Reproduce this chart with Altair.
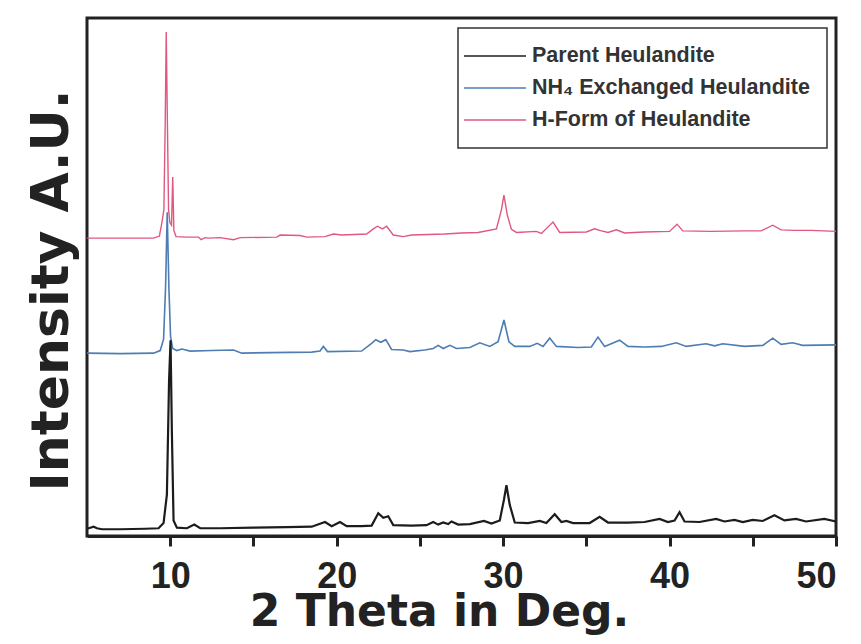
import altair as alt
import pandas as pd

series_names = ["Parent Heulandite", "NH\u2084 Exchanged Heulandite", "H-Form of Heulandite"]
series_colors = ["#1c1c1c", "#4d7db3", "#e0587e"]

# (2 theta, intensity), each series already offset
parent_pattern = [
    (5.0, 1.4), (5.4, 1.8), (5.6, 1.5), (5.9, 1.3), (7.0, 1.3), (8.5, 1.4), (9.3, 1.5),
    (9.6, 2.5), (9.8, 8.0), (9.93, 30.0), (10.02, 37.8), (10.1, 20.0), (10.2, 3.0),
    (10.4, 1.6), (11.0, 1.5), (11.45, 2.2), (11.8, 1.5), (13.0, 1.5), (15.0, 1.6),
    (17.0, 1.7), (18.5, 1.8), (19.3, 2.7), (19.7, 1.9), (20.2, 2.7), (20.6, 1.9),
    (21.5, 1.9), (22.1, 2.0), (22.5, 4.4), (22.8, 3.5), (23.1, 3.8), (23.4, 2.1),
    (24.5, 2.0), (25.4, 2.1), (25.8, 2.7), (26.1, 2.2), (26.4, 2.6), (26.7, 2.3),
    (26.9, 2.8), (27.3, 2.2), (28.0, 2.3), (28.85, 2.9), (29.3, 2.4), (29.8, 3.0),
    (30.05, 7.0), (30.2, 9.8), (30.4, 6.0), (30.7, 2.6), (31.5, 2.5), (32.2, 2.9),
    (32.6, 2.5), (33.1, 4.2), (33.5, 2.7), (33.8, 2.9), (34.2, 2.5), (35.2, 2.5),
    (35.8, 3.7), (36.3, 2.6), (37.5, 2.6), (38.5, 2.7), (39.4, 3.3), (39.9, 2.7),
    (40.3, 3.0), (40.6, 4.6), (40.9, 2.8), (41.8, 2.7), (42.8, 3.3), (43.3, 2.8),
    (43.9, 3.1), (44.4, 2.7), (45.0, 3.1), (45.6, 2.9), (46.3, 4.0), (46.9, 3.0),
    (47.6, 3.3), (48.2, 2.8), (49.3, 3.3), (50.0, 2.8),
]

nh4_pattern = [
    (5.0, 35.3), (7.0, 35.2), (9.0, 35.3), (9.4, 35.8), (9.6, 38.0), (9.72, 48.0),
    (9.82, 62.5), (9.92, 48.0), (10.02, 38.5), (10.15, 36.2), (10.4, 35.8), (10.7, 36.1),
    (11.2, 35.7), (12.5, 35.8), (13.8, 35.9), (14.3, 35.3), (16.0, 35.4), (18.5, 35.5),
    (19.0, 35.7), (19.2, 36.6), (19.45, 35.6), (21.5, 35.7), (22.1, 37.2), (22.35, 37.9),
    (22.65, 37.4), (22.95, 37.9), (23.3, 36.0), (24.0, 35.9), (24.4, 35.6), (25.3, 35.9),
    (25.8, 36.2), (26.1, 36.8), (26.4, 36.2), (26.8, 36.8), (27.2, 36.2), (28.0, 36.4),
    (28.6, 37.3), (29.2, 36.6), (29.7, 37.5), (30.05, 41.7), (30.35, 37.5), (30.7, 36.6),
    (31.6, 36.6), (32.05, 37.2), (32.4, 36.6), (32.8, 38.2), (33.2, 36.6), (34.5, 36.4),
    (35.3, 36.5), (35.7, 38.4), (36.1, 36.6), (37.0, 37.8), (37.5, 36.6), (38.5, 36.5),
    (39.5, 36.6), (40.4, 37.3), (41.0, 36.6), (42.2, 37.1), (42.7, 36.7), (43.2, 37.1),
    (44.5, 36.6), (45.6, 36.8), (46.2, 38.2), (46.7, 37.0), (47.4, 37.3), (48.0, 36.8),
    (50.0, 36.9),
]

hform_pattern = [
    (5.0, 57.5), (7.0, 57.5), (9.0, 57.5), (9.35, 57.9), (9.5, 60.5), (9.62, 63.0),
    (9.7, 80.0), (9.76, 97.3), (9.83, 80.0), (9.9, 63.0), (9.98, 60.5), (10.08, 60.0),
    (10.15, 69.3), (10.22, 59.0), (10.35, 57.8), (11.0, 57.7), (11.7, 57.7), (11.85, 57.2),
    (12.1, 57.6), (12.3, 57.5), (13.0, 57.6), (13.8, 57.2), (14.2, 57.6), (16.4, 57.7),
    (16.6, 58.1), (17.8, 58.0), (18.2, 57.7), (19.3, 57.8), (19.8, 58.3), (20.3, 58.1),
    (21.8, 58.3), (22.2, 59.3), (22.45, 59.8), (22.75, 59.3), (23.0, 59.8), (23.4, 58.1),
    (24.0, 57.8), (24.5, 58.1), (25.5, 58.2), (26.5, 58.3), (27.5, 58.5), (28.5, 58.6),
    (29.6, 59.3), (29.9, 63.0), (30.05, 65.8), (30.25, 62.0), (30.5, 59.2), (30.8, 58.6),
    (32.0, 58.8), (32.3, 58.4), (33.0, 60.6), (33.4, 58.6), (35.0, 58.7), (35.5, 59.3),
    (35.8, 59.0), (36.3, 58.6), (36.8, 59.1), (37.3, 58.5), (38.5, 58.7), (40.0, 58.8),
    (40.45, 60.2), (40.8, 58.9), (42.5, 58.8), (44.5, 58.9), (45.5, 58.9), (46.2, 60.0),
    (46.7, 59.1), (47.5, 59.0), (48.5, 59.0), (50.0, 58.8),
]

x_ticks = [10, 15, 20, 25, 30, 35, 40, 45, 50]

rows = []
for name, pattern in zip(series_names, [parent_pattern, nh4_pattern, hform_pattern]):
    for i, (t, v) in enumerate(pattern):
        rows.append({"series": name, "theta": t, "intensity": v, "idx": i})
df = pd.DataFrame(rows)

color_scale = alt.Scale(domain=series_names, range=series_colors)
x_enc = alt.X(
    "theta:Q",
    scale=alt.Scale(domain=[5, 50], nice=False, zero=False),
    axis=alt.Axis(
        values=x_ticks,
        labelExpr="datum.value % 10 == 0 ? datum.label : ''",
        format="d",
        grid=False,
        tickSize=10,
        tickWidth=3,
        tickColor="#222222",
        domainColor="#222222",
        domainWidth=3,
        labelFont="Liberation Sans",
        labelFontWeight="bold",
        labelFontSize=36,
        labelColor="#222222",
        labelPadding=13,
        title="2 Theta in Deg.",
        titleFont="DejaVu Sans",
        titleFontWeight="bold",
        titleFontSize=44,
        titleColor="#222222",
        titleX=352,
        titleY=54,
        titleBaseline="top",
    ),
)
y_enc = alt.Y(
    "intensity:Q",
    scale=alt.Scale(domain=[0, 100], nice=False, zero=False),
    axis=alt.Axis(
        labels=False,
        ticks=False,
        domain=False,
        grid=False,
        title="Intensity A.U.",
        titleFont="DejaVu Sans",
        titleFontWeight="bold",
        titleFontSize=52,
        titleColor="#222222",
        titlePadding=9,
        titleY=272,
    ),
)
color_enc = alt.Color(
    "series:N",
    scale=color_scale,
    sort=series_names,
    legend=alt.Legend(
        title=None,
        orient="none",
        legendX=371,
        legendY=10,
        symbolType="M-2.2,0H4",
        symbolSize=400,
        symbolStrokeWidth=1.5,
        labelFont="Liberation Sans",
        labelFontWeight="bold",
        labelFontSize=21.5,
        labelColor="#333333",
        labelOffset=35,
        labelLimit=500,
        rowPadding=10,
        padding=17,
    ),
)

def layer_for(name, width):
    return (
        alt.Chart(df)
        .transform_filter(alt.datum.series == name)
        .mark_line(strokeWidth=width)
        .encode(x=x_enc, y=y_enc, color=color_enc, order="idx:Q")
    )

chart = (
    alt.layer(
        layer_for(series_names[2], 1.4),
        layer_for(series_names[1], 1.6),
        layer_for(series_names[0], 2.2),
    )
    .properties(
        width=749,
        height=518,
        autosize=alt.AutoSizeParams(type="none"),
        padding={"left": 79, "top": 10, "right": 17, "bottom": 100},
        background="white",
    )
    .configure_view(stroke="#222222", strokeWidth=3)
    .configure_legend(strokeColor="#333333", strokeWidth=1.5)
)

chart.save("out.html", embed_options={"renderer": "svg", "actions": False})
